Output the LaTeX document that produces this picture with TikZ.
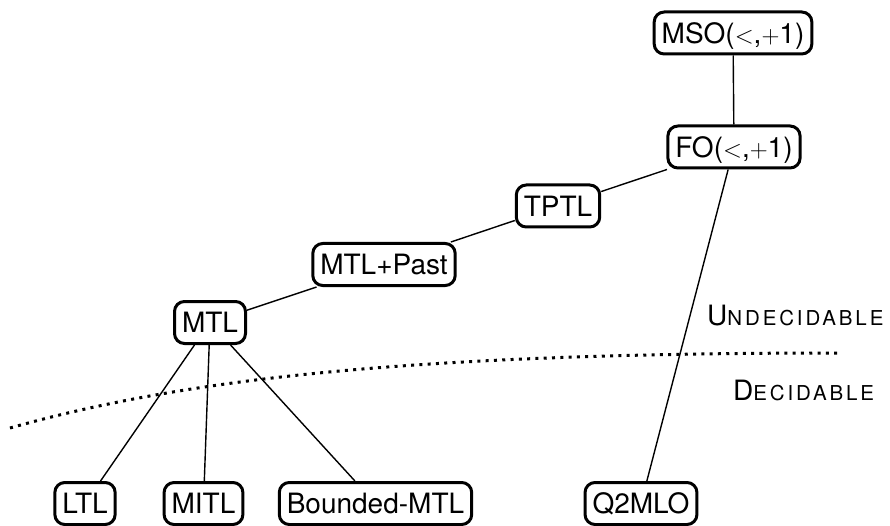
\documentclass[tikz,border=0pt]{standalone}
\usepackage[no-math]{fontspec}
\setmainfont{TeX Gyre Heros}
\newfontfamily\trackfont[LetterSpace=14]{TeX Gyre Heros}
\newcommand{\fakesc}[2]{{\trackfont\fontsize{28}{34}\selectfont #1\fontsize{20.5}{24}\selectfont #2}}
\tikzset{
  logic/.style={draw, line width=3pt, rounded corners=10pt, inner xsep=7.5pt,
    inner ysep=0pt, minimum height=42pt, text height=20.2pt, text depth=0pt,
    font=\fontsize{28}{34}\selectfont},
  link/.style={line width=1.4pt},
  border/.style={line width=3pt, dash pattern=on 3pt off 5.3pt},
  zone/.style={inner sep=0pt}
}
\begin{document}
\begin{tikzpicture}[x=1pt,y=-1pt]
  \useasboundingbox (0,0) rectangle (890,526);
  % dotted border between decidable and undecidable
  \draw[border] (10,428) .. controls (180,380) and (400,353) .. (840,353);
  % nodes
  \node[logic] (MSO) at (733,33) {MSO($<$,$+$1)};
  \node[logic] (FO) at (734,147) {FO($<$,$+$1)};
  \node[logic] (TPTL) at (558,206) {TPTL};
  \node[logic] (MTLP) at (384,264.5) {MTL+Past};
  \node[logic] (MTL) at (210,322.5) {MTL};
  \node[logic] (LTL) at (85,503.5) {LTL};
  \node[logic] (MITL) at (203.5,503.5) {MITL};
  \node[logic] (BMTL) at (375.5,503.5) {Bounded-MTL};
  \node[logic] (Q2) at (641,503.5) {Q2MLO};
  % connectors
  \draw[link] (MSO) -- (FO);
  \draw[link] (FO) -- (TPTL);
  \draw[link] (TPTL) -- (MTLP);
  \draw[link] (MTLP) -- (MTL);
  \draw[link] (MTL) -- (LTL);
  \draw[link] (MTL) -- (MITL);
  \draw[link] (MTL) -- (BMTL);
  \draw[link] (FO) -- (Q2);
  % labels
  \node[zone, anchor=base west] (und) at (707,325) {\fakesc{U}{NDECIDABLE}};
  \node[zone, anchor=base west] (dec) at (733,400) {\fakesc{D}{ECIDABLE}};
\end{tikzpicture}
\end{document}
